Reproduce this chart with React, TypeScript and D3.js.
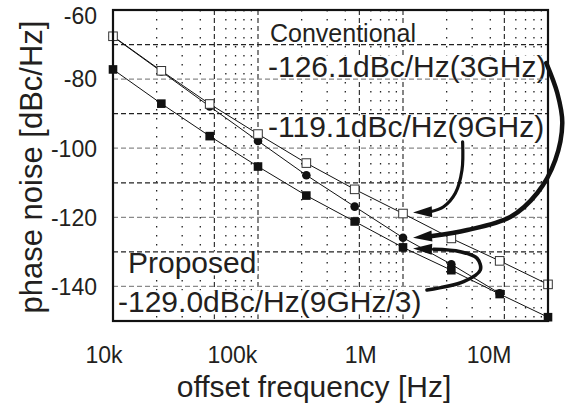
import React, { useRef, useEffect } from "react";
import * as d3 from "d3";

const W = 587;
const H = 413;

// offset frequencies (3 points per decade)
const offsetFreqs = [10000, 21544, 46416, 100000, 215443, 464159, 1000000, 2154435, 4641589, 10000000];
// conventional 9GHz (open squares)
const conv9GHz = [-67.6, -77.6, -87.2, -95.9, -104.3, -111.9, -118.9, -126.1, -132.6, -139.4];
// conventional 3GHz (filled circles)
const conv3GHz = [-67.7, -77.8, -87.9, -97.9, -107.8, -116.9, -125.9, -133.6, -142.0];
// proposed 9GHz/3 (filled squares)
const proposed = [-77.2, -87.1, -96.5, -105.3, -113.7, -121.2, -128.7, -135.3, -142.2, -148.9];

const yTickValues = [-60, -80, -100, -120, -140];
const xTickLabels = ["10k", "100k", "1M", "10M"];

const notes = [
  { text: "Conventional", x: 270, y: 42, size: 25 },
  { text: "-126.1dBc/Hz(3GHz)", x: 268, y: 77, size: 30 },
  { text: "-119.1dBc/Hz(9GHz)", x: 268, y: 137, size: 30 },
  { text: "Proposed", x: 128, y: 273, size: 30 },
  { text: "-129.0dBc/Hz(9GHz/3)", x: 118, y: 312, size: 30 },
];

// arrows: waypoints are pixel offsets from the arrow tip, tip sits next to the 1M point
const arrows = [
  {
    series: conv9GHz, tipDy: -1, width: 3.2,
    pts: [[49.6, -70.8], [49, -42.5], [42.3, -19.2], [30.6, -5.8], [17.3, -0.8]],
  },
  {
    series: conv3GHz, tipDy: 0, width: 4.5,
    pts: [[133.3, -174.7], [144.3, -144.7], [149.3, -114.7], [142.3, -77.7], [124.3, -44.7], [97.3, -20.7], [54.3, -7.7], [19.3, -1.7]],
  },
  {
    series: proposed, tipDy: 1, width: 3.6,
    pts: [[14, 41.6], [50.6, 33.3], [67.3, 21.6], [64, 9.9], [47.3, 3.3], [20.6, 0.9]],
  },
];

const FONT = "'Liberation Sans', Arial, Helvetica, sans-serif";
const INK = "#231f20";

export default function App() {
  const svgRef = useRef<SVGSVGElement>(null);

  useEffect(() => {
    const svg = d3.select(svgRef.current);
    svg.selectAll("*").remove();

    const x = d3.scaleLog().domain([1e4, 1e7]).range([113, 548]);
    const y = d3.scaleLinear().domain([-150, -60]).range([321, 10]);

    svg.append("rect").attr("width", W).attr("height", H).attr("fill", "#fff");

    const leadDigit = (d: number) =>
      Math.round(d / Math.pow(10, Math.floor(Math.log10(d) + 1e-9)));

    // vertical grid
    const vt = x.ticks().filter((v) => v > 1e4 && v < 1e7);
    svg
      .append("g")
      .selectAll("line")
      .data(vt)
      .enter()
      .append("line")
      .attr("x1", (d) => x(d))
      .attr("x2", (d) => x(d))
      .attr("y1", y(-60))
      .attr("y2", y(-150))
      .attr("stroke", "#222")
      .attr("stroke-width", (d) => (leadDigit(d) === 1 || leadDigit(d) === 5 ? 1.1 : 1.3))
      .attr("stroke-dasharray", (d) => (leadDigit(d) === 1 || leadDigit(d) === 5 ? "5,3" : "1.5,7.5"));

    // annotation texts with white backgrounds
    const notesG = svg.append("g");
    notes.forEach((n) => {
      const bg = notesG.append("rect").attr("fill", "#fff");
      const t = notesG
        .append("text")
        .attr("x", n.x)
        .attr("y", n.y)
        .attr("font-family", FONT)
        .attr("font-size", n.size)
        .attr("fill", INK)
        .text(n.text);
      const bb = (t.node() as SVGTextElement).getBBox();
      bg.attr("x", bb.x - 1)
        .attr("width", bb.width + 2)
        .attr("y", n.y - n.size * 0.72)
        .attr("height", n.size * 0.8);
    });

    // horizontal grid
    svg
      .append("g")
      .selectAll("line")
      .data(d3.range(-140, -60, 10))
      .enter()
      .append("line")
      .attr("x1", x(1e4))
      .attr("x2", x(1e7))
      .attr("y1", (d) => y(d))
      .attr("y2", (d) => y(d))
      .attr("stroke", (d) => (d % 20 === 0 ? "#8a8a8a" : "#222"))
      .attr("stroke-width", 1.2)
      .attr("stroke-dasharray", "5,3");

    // series lines
    const line = d3
      .line<number>()
      .x((_, i) => x(offsetFreqs[i]))
      .y((d) => y(d));
    [conv3GHz, proposed, conv9GHz].forEach((s) => {
      svg
        .append("path")
        .attr("d", line(s))
        .attr("fill", "none")
        .attr("stroke", "#111")
        .attr("stroke-width", 1);
    });

    // markers
    svg
      .append("g")
      .selectAll("circle")
      .data(conv3GHz)
      .enter()
      .append("circle")
      .attr("cx", (_, i) => x(offsetFreqs[i]))
      .attr("cy", (d) => y(d))
      .attr("r", 4.3)
      .attr("fill", "#111");

    const sq = 8.6;
    svg
      .append("g")
      .selectAll("rect")
      .data(proposed)
      .enter()
      .append("rect")
      .attr("x", (_, i) => x(offsetFreqs[i]) - sq / 2)
      .attr("y", (d) => y(d) - sq / 2)
      .attr("width", sq)
      .attr("height", sq)
      .attr("fill", "#111");

    svg
      .append("g")
      .selectAll("rect")
      .data(conv9GHz)
      .enter()
      .append("rect")
      .attr("x", (_, i) => x(offsetFreqs[i]) - sq / 2)
      .attr("y", (d) => y(d) - sq / 2)
      .attr("width", sq)
      .attr("height", sq)
      .attr("fill", "#fff")
      .attr("stroke", "#333")
      .attr("stroke-width", 1);

    // arrows
    const curve = d3
      .line<number[]>()
      .x((d) => d[0])
      .y((d) => d[1])
      .curve(d3.curveCatmullRom.alpha(0.5));
    arrows.forEach((a) => {
      const tx = x(1e6) + 10;
      const ty = y(a.series[6]) + a.tipDy;
      const pts = a.pts.map((p) => [tx + p[0], ty + p[1]]);
      svg
        .append("path")
        .attr("d", curve(pts))
        .attr("fill", "none")
        .attr("stroke", "#111")
        .attr("stroke-width", a.width)
        .attr("stroke-linecap", "round");
      const base = pts[pts.length - 1];
      const ang = Math.atan2(ty - base[1], tx - base[0]);
      const L = 19;
      const hw = 5.5;
      const bx = tx - L * Math.cos(ang);
      const by = ty - L * Math.sin(ang);
      const px = -Math.sin(ang) * hw;
      const py = Math.cos(ang) * hw;
      svg
        .append("path")
        .attr("d", `M${tx},${ty}L${bx + px},${by + py}L${bx - px},${by - py}Z`)
        .attr("fill", "#111");
    });

    // frame
    svg
      .append("rect")
      .attr("x", x(1e4))
      .attr("y", y(-60))
      .attr("width", x(1e7) - x(1e4))
      .attr("height", y(-150) - y(-60))
      .attr("fill", "none")
      .attr("stroke", "#111")
      .attr("stroke-width", 2.2);

    // y tick labels (top one pushed down so it stays inside the page)
    svg
      .append("g")
      .selectAll("text")
      .data(yTickValues)
      .enter()
      .append("text")
      .attr("x", 97)
      .attr("y", (d) => Math.max(y(d), 16))
      .attr("dy", "0.36em")
      .attr("text-anchor", "end")
      .attr("font-family", FONT)
      .attr("font-size", 23)
      .attr("fill", INK)
      .text((d) => d);

    // x tick labels (sit left of their grid lines in the original)
    const xl = d3.scalePoint<string>().domain(xTickLabels).range([104, 489]);
    svg
      .append("g")
      .selectAll("text")
      .data(xTickLabels)
      .enter()
      .append("text")
      .attr("x", (d) => xl(d) as number)
      .attr("y", 363)
      .attr("text-anchor", "middle")
      .attr("font-family", FONT)
      .attr("font-size", 23)
      .attr("fill", INK)
      .text((d) => d);

    // axis titles
    svg
      .append("text")
      .attr("x", 314)
      .attr("y", 397)
      .attr("text-anchor", "middle")
      .attr("font-family", FONT)
      .attr("font-size", 30)
      .attr("fill", INK)
      .text("offset frequency [Hz]");

    svg
      .append("text")
      .attr("transform", "translate(42,167) rotate(-90)")
      .attr("text-anchor", "middle")
      .attr("font-family", FONT)
      .attr("font-size", 31)
      .attr("fill", INK)
      .text("phase noise [dBc/Hz]");
  }, []);

  return (
    <svg
      ref={svgRef}
      width={W}
      height={H}
      style={{ position: "absolute", left: 0, top: 0, display: "block" }}
    ></svg>
  );
}
